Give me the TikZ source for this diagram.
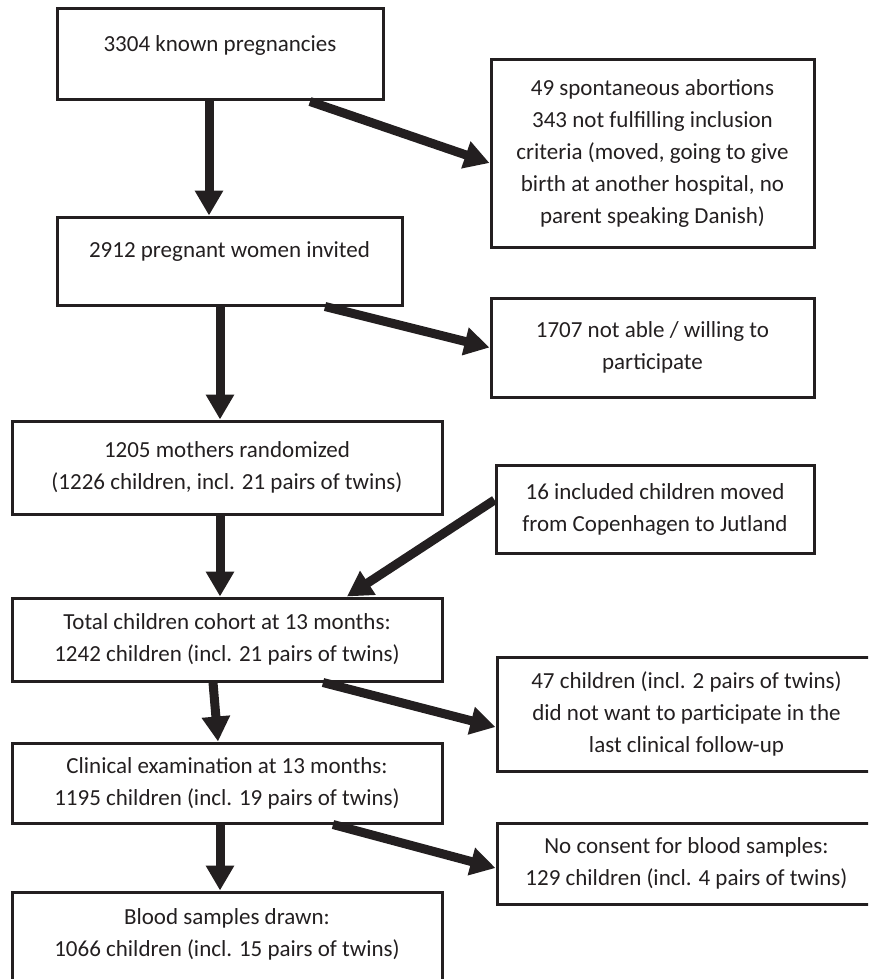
\documentclass[tikz,border=0pt]{standalone}
\usepackage{fontspec}
\setmainfont{Carlito}
\usepackage{tikz}
\usetikzlibrary{arrows.meta}
\definecolor{inkdark}{RGB}{35,31,32}

\begin{document}
\begin{tikzpicture}[
    x=0.5pt, y=-0.5pt,
    font=\fontsize{11.5pt}{16pt}\selectfont,
    box/.style={draw=inkdark, text=inkdark, line width=1.5pt, inner sep=0pt, align=center},
    arrow/.style={-{Triangle[length=12.5pt, width=13.5pt]}, line width=4.5pt, draw=inkdark}
  ]
    \useasboundingbox (0,0) rectangle (868,979);
    \clip (0,0) rectangle (868,979);
    % main column
    \node[box, minimum width=163pt, minimum height=45.5pt, text height=8pt, text depth=10.5pt] (known) at (220,54.5) {3304 known pregnancies};
    \node[box, minimum width=172.5pt, minimum height=44pt, text height=8pt, text depth=12pt] (invited) at (229.5,261) {2912 pregnant women invited};
    \node[box, minimum width=215pt, minimum height=46.5pt] (random) at (227,467.5) {1205 mothers randomized\\(1226 children, incl. 21 pairs of twins)};
    \node[box, minimum width=215pt, minimum height=41.5pt] (cohort) at (227,639.5) {Total children cohort at 13 months:\\1242 children (incl. 21 pairs of twins)};
    \node[box, minimum width=215pt, minimum height=40pt] (clinical) at (227,783) {Clinical examination at 13 months:\\1195 children (incl. 19 pairs of twins)};
    \node[box, minimum width=215pt, minimum height=56.5pt] (blood) at (227,948.5) {Blood samples drawn:\\1066 children (incl. 15 pairs of twins)\\\mbox{}};
    % side boxes
    \node[box, minimum width=161.5pt, minimum height=93.5pt] (excl) at (652.5,153.5) {49 spontaneous abortions\\343 not fulfilling inclusion\\criteria (moved, going to give\\birth at another hospital, no\\parent speaking Danish)};
    \node[box, minimum width=161.5pt, minimum height=49.5pt] (declined) at (652.5,347.5) {1707 not able / willing to\\participate};
    \node[box, minimum width=159pt, minimum height=44pt] (moved) at (655,509) {16 included children moved\\from Copenhagen to Jutland};
    \node[box, minimum width=189.5pt, minimum height=57pt] (nofollow) at (686.5,714) {47 children (incl. 2 pairs of twins)\\did not want to participate in the\\last clinical follow-up};
    \node[box, minimum width=189.5pt, minimum height=40.5pt] (noconsent) at (686.5,863.5) {No consent for blood samples:\\129 children (incl. 4 pairs of twins)};
    % arrows
    \draw[arrow] ([xshift=-5.5pt]known.south) -- ([xshift=-10.25pt]invited.north);
    \draw[arrow] ([xshift=45pt]known.south) -- ([yshift=-4.75pt]excl.west);
    \draw[arrow] ([xshift=-4.75pt]invited.south) -- ([xshift=-3.5pt]random.north);
    \draw[arrow] ([xshift=47.75pt]invited.south) -- (declined.west);
    \draw[arrow] ([xshift=-3.5pt]random.south) -- ([xshift=-3.5pt]cohort.north);
    \draw[arrow] ([yshift=4.5pt]moved.west) -- ([xshift=60pt]cohort.north);
    \draw[arrow] ([xshift=-7pt]cohort.south) -- ([xshift=-4.5pt]clinical.north);
    \draw[arrow] ([xshift=48pt]cohort.south) -- ([yshift=-6.5pt]nofollow.west);
    \draw[arrow] ([xshift=-3.5pt]clinical.south) -- ([xshift=-3.5pt]blood.north);
    \draw[arrow] ([xshift=53pt]clinical.south) -- ([yshift=-2.25pt]noconsent.west);
  \end{tikzpicture}
\end{document}
